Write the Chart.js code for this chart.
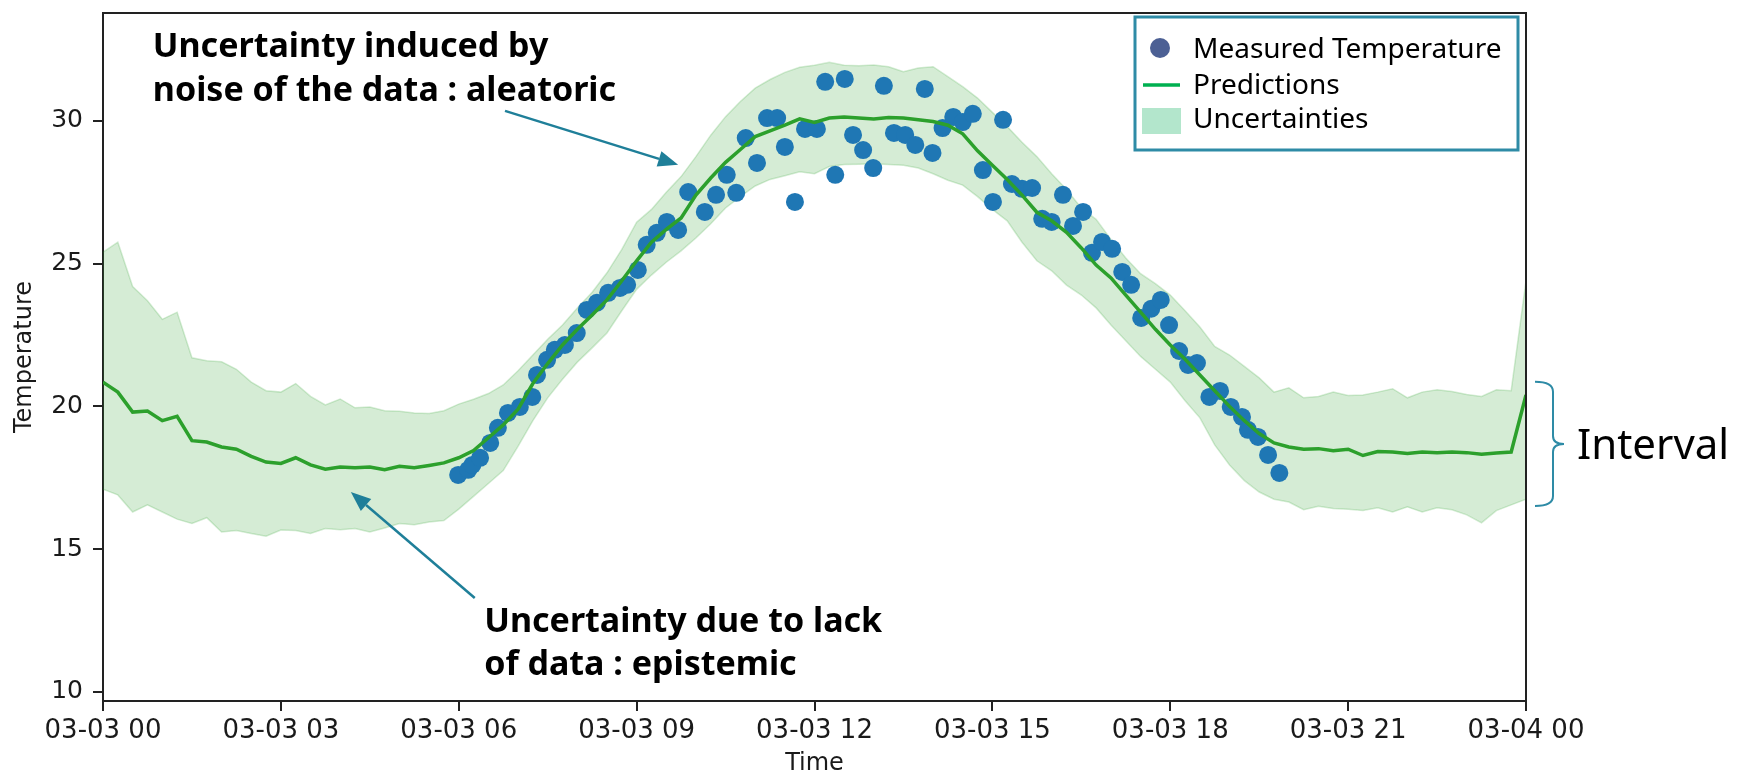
<!DOCTYPE html>
<html>
<head>
<meta charset="utf-8">
<title>Temperature predictions</title>
<script src="https://cdn.jsdelivr.net/npm/chart.js@4.4.1/dist/chart.umd.min.js"></script>
<style>
  html, body { margin: 0; padding: 0; background: #fff; }
  #wrap { width: 1739px; height: 776px; }
</style>
</head>
<body>
<div id="wrap"><canvas id="chart" width="1739" height="776"></canvas></div>
<script>
// model output: one sample every 15 minutes from 03-03 00:00 to 03-04 00:00
var SAMPLE_STEP_H = 0.25;

var predTemp = [
    20.85, 20.5, 19.8, 19.84,   19.5, 19.65, 18.8, 18.75,   18.58, 18.5, 18.25, 18.05,
    18.0, 18.2, 17.95, 17.8,    17.88, 17.85, 17.88, 17.78, 17.9, 17.85, 17.93, 18.02,
    18.2, 18.45, 18.9, 19.35,   19.9, 20.8, 21.5, 22.15,    22.7, 23.2, 23.73, 24.4,
    25.1, 25.75, 26.2, 26.6,    27.4, 28.0, 28.55, 29.0,    29.45, 29.65, 29.85, 30.07,
    29.95, 30.1, 30.14, 30.1,   30.07, 30.12, 30.1, 30.04,  29.98, 29.85, 29.55, 28.95,
    28.45, 27.95, 27.4, 26.8,   26.5, 26.1, 25.55, 24.95,   24.5, 23.9, 23.3, 22.7,
    22.15, 21.65, 21.1, 20.55,  20.0, 19.5, 19.05, 18.72,   18.58, 18.5, 18.52, 18.45,
    18.5, 18.28, 18.42, 18.4,   18.35, 18.4, 18.38, 18.4,   18.38, 18.32, 18.37, 18.4,
    20.4
];

var upperTemp = [
    25.4, 25.75, 24.2, 23.7,    23.05, 23.3, 21.7, 21.6,    21.56, 21.3, 20.85, 20.55,
    20.5, 20.8, 20.35, 20.05,   20.26, 19.95, 19.98, 19.85, 19.83, 19.77, 19.75, 19.85,
    20.08, 20.25, 20.45, 20.75, 21.25, 21.8, 22.35, 22.85,  23.45, 24.0, 24.68, 25.5,
    26.45, 26.9, 27.5, 28.05,   28.75, 29.5, 30.15, 30.68,  31.15, 31.45, 31.7, 31.88,
    31.95, 32.05, 31.95, 31.93, 31.96, 31.9, 31.72, 31.85,  31.9, 31.55, 31.2, 30.8,
    30.3, 29.8, 29.25, 28.75,   28.15, 27.6, 26.95, 26.55,  25.85, 25.2, 24.65, 24.3,
    23.9, 23.35, 22.78, 22.1,   21.8, 21.4, 21.0, 20.5,     20.65, 20.3, 20.35, 20.5,
    20.38, 20.4, 20.5, 20.62,   20.3, 20.5, 20.58, 20.52,   20.42, 20.35, 20.58, 20.55,
    24.4
];

var lowerTemp = [
    17.1, 16.9, 16.3, 16.55,    16.3, 16.05, 15.9, 16.1,    15.6, 15.65, 15.55, 15.45,
    15.67, 15.65, 15.55, 15.72, 15.68, 15.72, 15.6, 15.74,  15.9, 15.85, 15.95, 16.0,
    16.4, 16.85, 17.3, 17.75,   18.6, 19.5, 20.3, 20.95,    21.55, 22.05, 22.57, 23.35,
    24.1, 24.6, 25.05, 25.45,   25.9, 26.4, 26.95, 27.35,   27.72, 27.95, 28.08, 28.22,
    28.15, 28.4, 28.47, 28.48,  28.5, 28.47, 28.45, 28.35,  28.15, 27.92, 27.75, 27.35,
    26.9, 26.5, 25.75, 25.1,    24.75, 24.25, 23.9, 23.45,  22.85, 22.3, 21.75, 21.3,
    20.85, 20.2, 19.6, 18.65,   17.95, 17.4, 17.0, 16.75,   16.65, 16.38, 16.5, 16.42,
    16.4, 16.35, 16.45, 16.3,   16.48, 16.3, 16.45, 16.38,  16.2, 15.92, 16.35, 16.55,
    16.75
];

// sensor readings (hours since 03-03 00:00)
var measuredHours = [
    5.99, 6.16, 6.23, 6.36, 6.53, 6.66, 6.83, 7.03, 7.24, 7.32, 7.49, 7.62, 7.79, 7.99,
    8.16, 8.33, 8.52, 8.72, 8.84, 9.02, 9.17, 9.34, 9.51, 9.7, 9.87, 10.15, 10.34, 10.52,
    10.68, 10.84, 11.03, 11.2, 11.37, 11.5, 11.67, 11.84, 12.04, 12.18, 12.35, 12.51,
    12.65, 12.82, 12.99, 13.17, 13.34, 13.53, 13.7, 13.86, 13.99, 14.16, 14.34, 14.5,
    14.67, 14.84, 15.01, 15.18, 15.33, 15.5, 15.67, 15.84, 16.0, 16.19, 16.36, 16.53,
    16.68, 16.85, 17.02, 17.19, 17.34, 17.51, 17.68, 17.84, 17.98, 18.15, 18.3, 18.45,
    18.66, 18.84, 19.02, 19.21, 19.31, 19.48, 19.65, 19.84
];
var measuredTemp = [
    17.6, 17.78, 17.95, 18.2, 18.72, 19.25, 19.77, 19.98, 20.33, 21.1, 21.63, 21.98, 22.15, 22.57,
    23.38, 23.63, 23.98, 24.15, 24.26, 24.78, 25.66, 26.08, 26.46, 26.18, 27.51, 26.81, 27.41, 28.11,
    27.48, 29.4, 28.53, 30.1, 30.1, 29.09, 27.16, 29.72, 29.72, 31.37, 28.11, 31.47,
    29.51, 28.98, 28.35, 31.23, 29.58, 29.51, 29.16, 31.12, 28.88, 29.75, 30.14, 29.96,
    30.25, 28.28, 27.16, 30.04, 27.79, 27.62, 27.65, 26.57, 26.46, 27.41, 26.32, 26.81,
    25.38, 25.76, 25.52, 24.71, 24.26, 23.1, 23.42, 23.73, 22.85, 21.94, 21.45, 21.52,
    20.33, 20.54, 19.98, 19.63, 19.18, 18.93, 18.3, 17.67
];

var xTickHours = [0, 3, 6, 9, 12, 15, 18, 21, 24];
var xTickLabels = ['03-03 00', '03-03 03', '03-03 06', '03-03 09', '03-03 12',
                   '03-03 15', '03-03 18', '03-03 21', '03-04 00'];
var yTickValues = [10, 15, 20, 25, 30];

function toPoints(values) {
    return values.map(function (v, i) {
        return { x: i * SAMPLE_STEP_H, y: v };
    });
}

var measuredPoints = measuredHours.map(function (h, i) {
    return { x: h, y: measuredTemp[i] };
});

var BAND = 'rgba(44, 160, 44, 0.2)';

// frame, notes, arrows, legend box and interval brace
var overlayPlugin = {
    id: 'overlay',
    afterDraw: function (chart) {
        var ctx = chart.ctx;
        var area = chart.chartArea;
        var xs = chart.scales.x;
        var ys = chart.scales.y;
        var px = function (h) { return xs.getPixelForValue(h); };
        var py = function (v) { return ys.getPixelForValue(v); };

        ctx.save();

        // top and right spines
        ctx.strokeStyle = '#222';
        ctx.lineWidth = 2;
        ctx.beginPath();
        ctx.moveTo(area.left, area.top);
        ctx.lineTo(area.right, area.top);
        ctx.lineTo(area.right, area.bottom);
        ctx.stroke();

        // annotation text
        ctx.fillStyle = '#000';
        ctx.textAlign = 'left';
        ctx.textBaseline = 'alphabetic';
        ctx.font = 'bold 34px "Noto Sans"';
        ctx.fillText('Uncertainty induced by', px(0.84), py(32.24));
        ctx.fillText('noise of the data : aleatoric', px(0.84), py(30.70));
        ctx.fillText('Uncertainty due to lack', px(6.43), py(12.10));
        ctx.fillText('of data : epistemic', px(6.43), py(10.60));

        // arrows
        function arrow(x1, y1, x2, y2) {
            var ang = Math.atan2(y2 - y1, x2 - x1);
            var len = 20, half = 8;
            var bx = x2 - len * Math.cos(ang);
            var by = y2 - len * Math.sin(ang);
            ctx.beginPath();
            ctx.moveTo(x1, y1);
            ctx.lineTo(bx, by);
            ctx.stroke();
            ctx.beginPath();
            ctx.moveTo(x2, y2);
            ctx.lineTo(bx + half * Math.sin(ang), by - half * Math.cos(ang));
            ctx.lineTo(bx - half * Math.sin(ang), by + half * Math.cos(ang));
            ctx.closePath();
            ctx.fill();
        }
        ctx.strokeStyle = '#1f7f99';
        ctx.fillStyle = '#1f7f99';
        ctx.lineWidth = 2.5;
        arrow(px(6.78), py(30.35), px(9.70), py(28.46));
        arrow(px(6.27), py(13.29), px(4.18), py(17.0));

        // legend
        var ds = chart.data.datasets;
        var lx = area.right - 391, ly = area.top + 4;
        ctx.fillStyle = '#fff';
        ctx.fillRect(lx, ly, 383, 133);
        ctx.strokeStyle = '#2e8ba6';
        ctx.lineWidth = 3;
        ctx.strokeRect(lx, ly, 383, 133);

        ctx.fillStyle = '#4c6094';
        ctx.beginPath();
        ctx.arc(lx + 25, ly + 31, 10, 0, Math.PI * 2);
        ctx.fill();

        ctx.strokeStyle = '#00b050';
        ctx.lineWidth = 3.5;
        ctx.beginPath();
        ctx.moveTo(lx + 8, ly + 68);
        ctx.lineTo(lx + 45, ly + 68);
        ctx.stroke();

        ctx.fillStyle = '#b3e6cc';
        ctx.fillRect(lx + 7, ly + 91, 39, 26);

        ctx.fillStyle = '#000';
        ctx.font = '28px "Noto Sans"';
        ctx.fillText(ds[3].label, lx + 58, ly + 41);
        ctx.fillText(ds[2].label, lx + 58, ly + 77);
        ctx.fillText(ds[0].label, lx + 58, ly + 111);

        // interval brace at the right end of the band
        var yTop = py(20.86), yBot = py(16.51), yMid = (yTop + yBot) / 2;
        var x0 = area.right + 9, xm = area.right + 27, xt = area.right + 38;
        ctx.strokeStyle = '#2e8ba6';
        ctx.lineWidth = 2;
        ctx.beginPath();
        ctx.moveTo(x0, yTop);
        ctx.quadraticCurveTo(xm, yTop, xm, yTop + 10);
        ctx.lineTo(xm, yMid - 8);
        ctx.quadraticCurveTo(xm, yMid, xt, yMid);
        ctx.quadraticCurveTo(xm, yMid, xm, yMid + 8);
        ctx.lineTo(xm, yBot - 10);
        ctx.quadraticCurveTo(xm, yBot, x0, yBot);
        ctx.stroke();

        ctx.fillStyle = '#000';
        ctx.font = '42px "Noto Sans"';
        ctx.fillText('Interval', area.right + 51, yMid + 15);

        ctx.restore();
    }
};

new Chart(document.getElementById('chart'), {
    type: 'line',
    data: {
        datasets: [
            {
                label: 'Uncertainties',
                data: toPoints(upperTemp),
                borderColor: BAND,
                borderWidth: 1.5,
                pointRadius: 0,
                fill: false,
                order: 2
            },
            {
                label: 'lower bound',
                data: toPoints(lowerTemp),
                borderColor: BAND,
                backgroundColor: BAND,
                borderWidth: 1.5,
                pointRadius: 0,
                fill: '-1',
                order: 2
            },
            {
                label: 'Predictions',
                data: toPoints(predTemp),
                borderColor: '#2ca02c',
                borderWidth: 3.5,
                pointRadius: 0,
                fill: false,
                order: 0
            },
            {
                type: 'scatter',
                label: 'Measured Temperature',
                data: measuredPoints,
                backgroundColor: '#1f77b4',
                borderWidth: 0,
                pointRadius: 9,
                order: 1
            }
        ]
    },
    options: {
        responsive: false,
        animation: false,
        devicePixelRatio: 1,
        layout: { padding: { left: 0, right: 213, top: 13, bottom: 0 } },
        plugins: {
            legend: { display: false },
            tooltip: { enabled: false }
        },
        scales: {
            x: {
                type: 'linear',
                min: 0,
                max: 24,
                afterBuildTicks: function (scale) {
                    scale.ticks = xTickHours.map(function (v) { return { value: v }; });
                },
                afterFit: function (scale) {
                    scale.height = 75;
                    scale.paddingLeft = 0;
                    scale.paddingRight = 0;
                },
                ticks: {
                    callback: function (value) { return xTickLabels[xTickHours.indexOf(value)]; },
                    font: { family: 'DejaVu Sans', size: 26 },
                    color: '#1a1a1a',
                    padding: 5,
                    maxRotation: 0,
                    autoSkip: false
                },
                grid: { drawOnChartArea: false, drawTicks: true, tickLength: 10, color: '#222', lineWidth: 2 },
                border: { display: true, color: '#222', width: 2 },
                title: {
                    display: true,
                    text: 'Time',
                    font: { family: 'DejaVu Sans', size: 24, lineHeight: 1 },
                    color: '#1a1a1a',
                    padding: { top: 0, bottom: 0 }
                }
            },
            y: {
                min: 9.68,
                max: 33.78,
                afterBuildTicks: function (scale) {
                    scale.ticks = yTickValues.map(function (v) { return { value: v }; });
                },
                afterFit: function (scale) {
                    scale.width = 103;
                    scale.paddingTop = 0;
                    scale.paddingBottom = 0;
                },
                ticks: { font: { family: 'DejaVu Sans', size: 25 }, color: '#1a1a1a', padding: 10 },
                grid: { drawOnChartArea: false, drawTicks: true, tickLength: 10, color: '#222', lineWidth: 2 },
                border: { display: true, color: '#222', width: 2 },
                title: {
                    display: true,
                    text: 'Temperature',
                    font: { family: 'DejaVu Sans', size: 24 },
                    color: '#1a1a1a',
                    padding: { top: 10, bottom: 0 }
                }
            }
        }
    },
    plugins: [overlayPlugin]
});
</script>
</body>
</html>
